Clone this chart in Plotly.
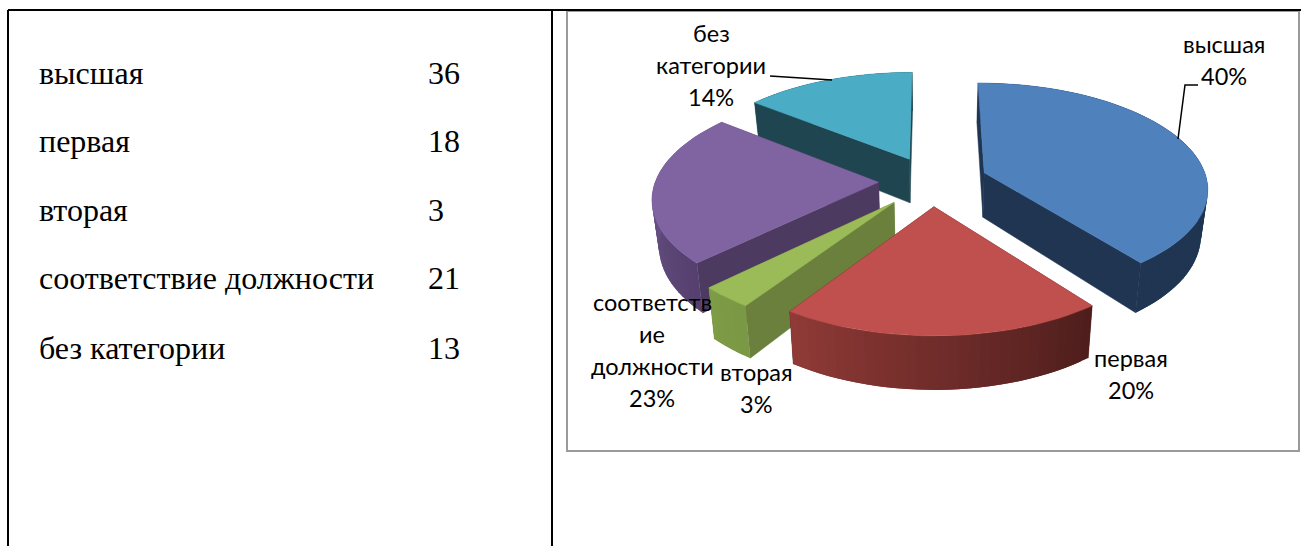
import math
import plotly.graph_objects as go

# ---- data ----
categories = ["высшая", "первая", "вторая", "соответствие должности", "без категории"]
values = [36, 18, 3, 21, 13]
label_lines = [["высшая"], ["первая"], ["вторая"], ["соответств", "ие", "должности"], ["без", "категории"]]
top_colors = ["#4F81BD", "#C0504D", "#9BBB59", "#8064A2", "#4BACC6"]
radial_colors = ["#1F3552", "#4E1F1D", "#6A803C", "#4C3A60", "#1F4650"]
arc_from = ["#1F3552", "#4E1E1C", "#7A9845", "#54406E", "#1F4650"]
arc_to = ["#1F3552", "#903A37", "#7E9B46", "#7A6199", "#1F4650"]
draw_order = [4, 0, 3, 2, 1]

# ---- layout of the page, pixels ----
W, H = 1301, 546
X0, Y0, A, B, K = 932, 181, 223, 104, 0.135
EXPLODE = [0.25, 0.24, 0.26, 0.24, 0.24]
DEPTH, BASE_SHRINK = 45, 0.975
label_xy = [(1224, 44), (1131, 358), (756, 372), (652, 302), (711, 33)]
LINE_H = 32
row_y = [73, 141, 210, 278, 348]


def project(u, v, base=False):
    w = 1 - K * v
    x, y = A * u / w, B * v / w
    if base:
        return X0 + x * BASE_SHRINK, Y0 + y + DEPTH / w
    return X0 + x, Y0 + y


def hex_mix(c1, c2, t):
    a = [int(c1[i:i + 2], 16) for i in (1, 3, 5)]
    b = [int(c2[i:i + 2], 16) for i in (1, 3, 5)]
    return "rgb(%d,%d,%d)" % tuple(round(p + (q - p) * t) for p, q in zip(a, b))


def poly(points, color, name, lw=0.5):
    return go.Scatter(
        x=[p[0] for p in points] + [points[0][0]],
        y=[p[1] for p in points] + [points[0][1]],
        mode="lines", fill="toself", fillcolor=color,
        line=dict(color=color, width=lw), name=name,
        hoverinfo="name", showlegend=False,
    )


total = sum(values)
starts = []
acc = 0.0
for v in values:
    starts.append(acc / total * 2 * math.pi)
    acc += v

fig = go.Figure()
for i in draw_order:
    t0 = starts[i]
    sweep = values[i] / total * 2 * math.pi
    mid = t0 + sweep / 2
    ou, ov = EXPLODE[i] * math.sin(mid), -EXPLODE[i] * math.cos(mid)
    pt = lambda t: (ou + math.sin(t), ov - math.cos(t))
    n = max(6, int(sweep / 0.04))
    arc = [t0 + sweep * j / n for j in range(n + 1)]
    for t in (t0, t0 + sweep):
        e = pt(t)
        fig.add_trace(poly([project(ou, ov), project(*e), project(*e, base=True), project(ou, ov, base=True)],
                           radial_colors[i], categories[i]))
    # each band of the rim runs under the next one, so no seams show between them
    for j in range(n):
        ends = arc[j:min(j + 3, n + 1)]
        front = [project(*pt(t)) for t in ends]
        back = [project(*pt(t), base=True) for t in reversed(ends)]
        fig.add_trace(poly(front + back, hex_mix(arc_from[i], arc_to[i], (j + 0.5) / n), categories[i], lw=0))
    fig.add_trace(poly([project(ou, ov)] + [project(*pt(t)) for t in arc], top_colors[i], categories[i]))

annotations = []
for name, val, y in zip(categories, values, row_y):
    annotations.append(dict(x=37, y=y, text=name, xanchor="left", yanchor="middle", showarrow=False,
                            font=dict(family="Liberation Serif", size=32, color="#000")))
    annotations.append(dict(x=426, y=y, text=str(val), xanchor="left", yanchor="middle", showarrow=False,
                            font=dict(family="Liberation Serif", size=32, color="#000")))
for lines, val, (lx, ly) in zip(label_lines, values, label_xy):
    for k, t in enumerate(lines + [f"{round(val / total * 100)}%"]):
        annotations.append(dict(x=lx, y=ly + k * LINE_H, text=t, xanchor="center", yanchor="middle", showarrow=False,
                                font=dict(family="Lato, Open Sans", size=23.5, color="#000")))

line = dict(color="#000", width=2)
shapes = [
    dict(type="rect", x0=567, y0=11, x1=1299, y1=451, line=dict(color="#9A9A9A", width=2), layer="below"),
    dict(type="line", x0=8, y0=10, x1=1301, y1=10, line=line),
    dict(type="line", x0=8, y0=10, x1=8, y1=546, line=line),
    dict(type="line", x0=552, y0=10, x1=552, y1=546, line=line),
    dict(type="line", x0=770, y0=76, x1=832, y1=80, line=dict(color="#000", width=1.5)),
    dict(type="path", path="M1198,85 L1185,85 L1178,139", line=dict(color="#000", width=1.5)),
]

fig.update_layout(
    width=W, height=H, margin=dict(l=0, r=0, t=0, b=0),
    paper_bgcolor="#fff", plot_bgcolor="#fff", showlegend=False,
    xaxis=dict(range=[0, W], visible=False, fixedrange=True),
    yaxis=dict(range=[H, 0], visible=False, fixedrange=True),
    annotations=annotations, shapes=shapes,
)
fig.write_html("out.html", post_script="document.body.style.margin='0';document.body.style.overflow='hidden';",
               config={"displayModeBar": False})
